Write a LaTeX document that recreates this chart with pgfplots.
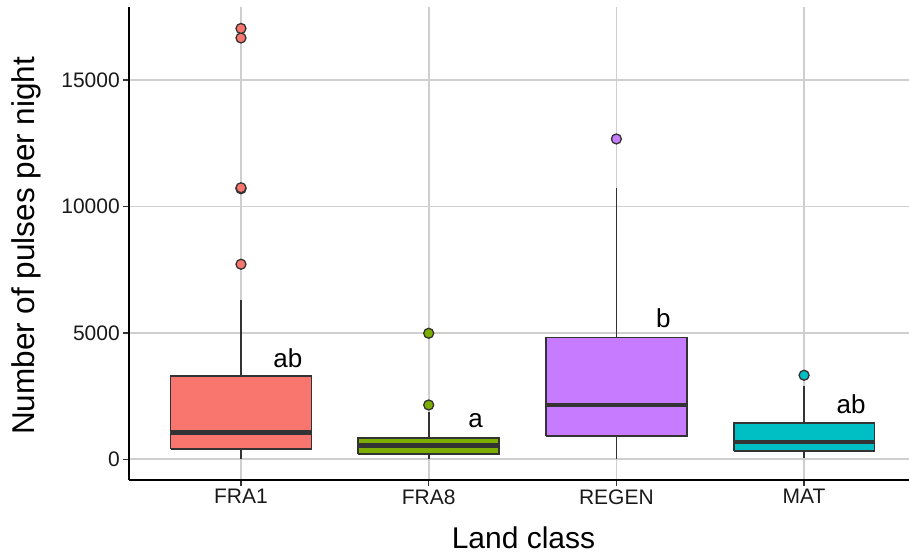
\documentclass[border=0pt]{standalone}
\usepackage{fontspec}
\setmainfont{Liberation Sans}
\usepackage{pgfplots}
\pgfplotsset{compat=1.18}
\definecolor{cA}{HTML}{F8766D}
\definecolor{cB}{HTML}{7CAE00}
\definecolor{cC}{HTML}{C77CFF}
\definecolor{cD}{HTML}{00BFC4}
\definecolor{c333}{HTML}{333333}
\definecolor{gridc}{HTML}{CFCFCF}
\pgfplotsset{
  boxs/.style={draw=c333, line width=1.6pt, fill=#1},
  whis/.style={draw=c333, line width=1.7pt},
  med/.style={draw=c333, line width=4.8pt},
  outl/.style={only marks, mark=*, mark size=5pt, mark options={solid, fill=#1, draw=c333, line width=1.3pt}},
}
\begin{document}
\begin{tikzpicture}
\useasboundingbox (0,0) rectangle (909pt,556pt);
\begin{axis}[
  at={(129.3pt,76pt)}, anchor=south west,
  scale only axis, width=787.4pt, height=473pt,
  xmin=0.405, xmax=4.6, ymin=-820, ymax=17890,
  axis x line*=bottom, axis y line*=left,
  axis line style={-, line width=1.8pt, black},
  xtick={1,2,3,4}, xticklabels={FRA1,FRA8,REGEN,MAT},
  ytick={0,5000,10000,15000},
  scaled y ticks=false,
  /pgf/number format/1000 sep={},
  /pgf/number format/assume math mode=true,
  tick label style={font=\fontsize{21}{25}\selectfont, text=black!90},
  tick align=outside, major tick length=6pt,
  tick style={line width=1.4pt, color=c333},
  grid=major, major grid style={line width=1.7pt, color=gridc},
  every axis x label/.style={at={(axis description cs:0.5006,-0.1444)}, anchor=base, font=\fontsize{30}{36}\selectfont},
  every axis y label/.style={at={(axis description cs:-0.1198,0.495)}, rotate=90, anchor=base, font=\fontsize{31.5}{37}\selectfont},
  xlabel={Land class}, ylabel={Number of pulses per night},
]
% FRA1
\addplot[whis] coordinates {(1,0) (1,407)};
\addplot[whis] coordinates {(1,3295) (1,6301)};
\addplot[boxs=cA] coordinates {(0.625,407) (1.375,407) (1.375,3295) (0.625,3295) (0.625,407)};
\addplot[med] coordinates {(0.625,1060) (1.375,1060)};
\addplot[outl=cA] coordinates {(1,7714) (1,10700) (1,10740) (1,16665) (1,17041)};
% FRA8
\addplot[whis] coordinates {(2,0) (2,198)};
\addplot[whis] coordinates {(2,831) (2,1880)};
\addplot[boxs=cB] coordinates {(1.625,198) (2.375,198) (2.375,831) (1.625,831) (1.625,198)};
\addplot[med] coordinates {(1.625,554) (2.375,554)};
\addplot[outl=cB] coordinates {(2,2148) (2,4984)};
% REGEN
\addplot[whis] coordinates {(3,0) (3,922)};
\addplot[whis] coordinates {(3,4810) (3,10720)};
\addplot[boxs=cC] coordinates {(2.625,922) (3.375,922) (3.375,4810) (2.625,4810) (2.625,922)};
\addplot[med] coordinates {(2.625,2148) (3.375,2148)};
\addplot[outl=cC] coordinates {(3,12670)};
% MAT
\addplot[whis] coordinates {(4,40) (4,328)};
\addplot[whis] coordinates {(4,1424) (4,2900)};
\addplot[boxs=cD] coordinates {(3.625,328) (4.375,328) (4.375,1424) (3.625,1424) (3.625,328)};
\addplot[med] coordinates {(3.625,684) (4.375,684)};
\addplot[outl=cD] coordinates {(4,3323)};
\node[anchor=base, font=\fontsize{26}{30}\selectfont] at (axis cs:1.25,3623) {ab};
\node[anchor=base, font=\fontsize{26}{30}\selectfont] at (axis cs:2.25,1250) {a};
\node[anchor=base, font=\fontsize{26}{30}\selectfont] at (axis cs:3.25,5221) {b};
\node[anchor=base, font=\fontsize{26}{30}\selectfont] at (axis cs:4.25,1820) {ab};
\end{axis}
\end{tikzpicture}
\end{document}
